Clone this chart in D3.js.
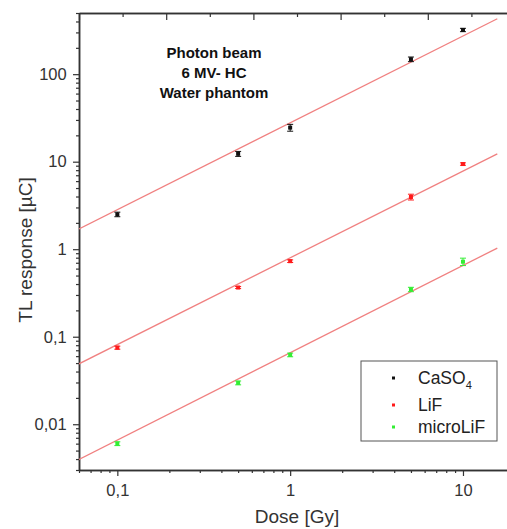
<!DOCTYPE html>
<html>
<head>
<meta charset="utf-8">
<script src="https://cdn.jsdelivr.net/npm/d3@7"></script>
<style>
  html, body { margin: 0; padding: 0; background: #fff; }
  svg { display: block; }
  text { font-family: Arial, "Liberation Sans", sans-serif; }
</style>
</head>
<body>
<svg id="chart" width="507" height="529"></svg>
<script>
// ---- data ----
const doses = [0.1, 0.5, 1, 5, 10];
const caso4 = [2.5, 12.3, 24.5, 148, 320];
const caso4Err = [0.15, 0.8, 2.2, 9, 14];
const lif = [0.075, 0.365, 0.73, 3.95, 9.4];
const lifErr = [0.003, 0.01, 0.025, 0.3, 0.3];
const microlif = [0.006, 0.0297, 0.062, 0.347, 0.72];
const microlifErr = [0.0003, 0.0015, 0.003, 0.02, 0.07];
// fitted lines: [x0, x1] and corresponding y values
const fitX = [0.06, 15.8];
const caso4Fit = [1.7, 430];
const lifFit = [0.049, 12.3];
const microlifFit = [0.00395, 1.03];
const xTickValues = [0.1, 1, 10];
const xTickLabels = ["0,1", "1", "10"];
const yTickValues = [0.01, 0.1, 1, 10, 100];
const yTickLabels = ["0,01", "0,1", "1", "10", "100"];
const seriesNames = ["CaSO4", "LiF", "microLiF"];
const seriesColors = ["#111111", "#ff1a1a", "#33ee33"];
const fitColor = "#f08080";
const annotation = ["Photon beam", "6 MV- HC", "Water phantom"];

const svg = d3.select("#chart");
const L = 79, R = 515, T = 13, B = 470;

const x = d3.scaleLog().domain([0.06, 20]).range([L, R]);
const y = d3.scaleLog().domain([0.003, 500]).range([B, T]);

// minor tick generators
function minorTicks(lo, hi) {
  const out = [];
  for (let e = -4; e <= 3; e++) {
    for (let m = 2; m <= 9; m++) {
      const v = +(m * Math.pow(10, e)).toPrecision(3);
      if (v >= lo * 0.9999 && v <= hi * 1.0001) out.push(v);
    }
  }
  return out;
}

const axisColor = "#333";

svg.append("defs").append("clipPath").attr("id", "clip")
  .append("rect").attr("x", L).attr("y", T).attr("width", R - L).attr("height", B - T);

// bottom axis
const gx = svg.append("g").attr("transform", `translate(0,${B})`);
gx.call(d3.axisBottom(x).tickValues(xTickValues).tickFormat((d, i) => xTickLabels[i]).tickSize(6).tickSizeOuter(0));
gx.append("g").call(d3.axisBottom(x).tickValues(minorTicks(0.06, 20)).tickFormat("").tickSize(3).tickSizeOuter(0));

// left axis
const gy = svg.append("g").attr("transform", `translate(${L},0)`);
gy.call(d3.axisLeft(y).tickValues(yTickValues).tickFormat((d, i) => yTickLabels[i]).tickSize(6).tickSizeOuter(0));
gy.append("g").call(d3.axisLeft(y).tickValues(minorTicks(0.003, 500)).tickFormat("").tickSize(3).tickSizeOuter(0));

// top axis (mirror axis, inward ticks, no labels)
const xTop = d3.scaleLinear().domain([0, 5]).range([L, R]);
const gt = svg.append("g").attr("transform", `translate(0,${T})`);
gt.call(d3.axisBottom(xTop).ticks(5).tickFormat("").tickSize(7).tickSizeOuter(0));
gt.append("g").call(d3.axisBottom(xTop).tickValues([0.5, 1.5, 2.5, 3.5, 4.5]).tickFormat("").tickSize(4).tickSizeOuter(0));

// right frame
svg.append("line").attr("x1", R).attr("x2", R).attr("y1", T).attr("y2", B).attr("stroke", axisColor);

svg.selectAll(".domain").attr("stroke", axisColor).attr("stroke-width", 1.5);
svg.selectAll(".tick line").attr("stroke", axisColor).attr("stroke-width", 1.2);
svg.selectAll(".tick text").attr("fill", "#333").style("font-size", "16.5px");
gx.selectAll(".tick text").attr("dy", "1.05em");
gy.selectAll(".tick text").attr("dx", "-0.2em");

// axis titles
svg.append("text").attr("x", 297).attr("y", 523).attr("text-anchor", "middle")
  .style("font-size", "19px").attr("fill", "#333").text("Dose [Gy]");
svg.append("text").attr("transform", "translate(32,250) rotate(-90)").attr("text-anchor", "middle")
  .style("font-size", "19px").attr("fill", "#333").text("TL response [\u00B5C]");

// plot contents
const plot = svg.append("g").attr("clip-path", "url(#clip)");
const fits = [caso4Fit, lifFit, microlifFit];
const line = d3.line().x(d => x(d[0])).y(d => y(d[1]));
fits.forEach(f => {
  plot.append("path").datum(fitX.map((xv, i) => [xv, f[i]]))
    .attr("d", line).attr("fill", "none").attr("stroke", fitColor).attr("stroke-width", 1.3);
});

const series = [
  { vals: caso4, err: caso4Err, color: seriesColors[0] },
  { vals: lif, err: lifErr, color: seriesColors[1] },
  { vals: microlif, err: microlifErr, color: seriesColors[2] }
];
series.forEach(s => {
  const g = plot.append("g");
  doses.forEach((dv, i) => {
    const cx = x(dv), v = s.vals[i], e = s.err[i];
    const y1 = y(v + e), y2 = y(v - e);
    g.append("line").attr("x1", cx).attr("x2", cx).attr("y1", y1).attr("y2", y2).attr("stroke", s.color).attr("stroke-width", 1);
    [y1, y2].forEach(yy => g.append("line").attr("x1", cx - 3).attr("x2", cx + 3).attr("y1", yy).attr("y2", yy).attr("stroke", s.color).attr("stroke-width", 1));
    g.append("rect").attr("x", cx - 2).attr("y", y(v) - 2).attr("width", 4).attr("height", 4).attr("fill", s.color);
  });
});

// annotation
const ann = svg.append("text").attr("text-anchor", "middle").style("font-size", "15px").style("font-weight", "bold").attr("fill", "#111");
annotation.forEach((t, i) => ann.append("tspan").attr("x", 214).attr("y", 58 + i * 20).text(t));

// legend
const lg = svg.append("g");
lg.append("rect").attr("x", 361).attr("y", 361).attr("width", 136).attr("height", 80)
  .attr("fill", "#fff").attr("stroke", "#555").attr("stroke-width", 1);
const rowsY = [378, 405, 427];
seriesNames.forEach((n, i) => {
  lg.append("rect").attr("x", 392).attr("y", rowsY[i] - 1.5).attr("width", 3).attr("height", 3).attr("fill", seriesColors[i]);
  const t = lg.append("text").attr("x", 418).attr("y", rowsY[i] + 6).style("font-size", "17.5px").attr("fill", "#222");
  if (n === "CaSO4") {
    t.append("tspan").text("CaSO");
    t.append("tspan").attr("dy", 5).style("font-size", "11px").text("4");
  } else {
    t.text(n);
  }
});
</script>
</body>
</html>
